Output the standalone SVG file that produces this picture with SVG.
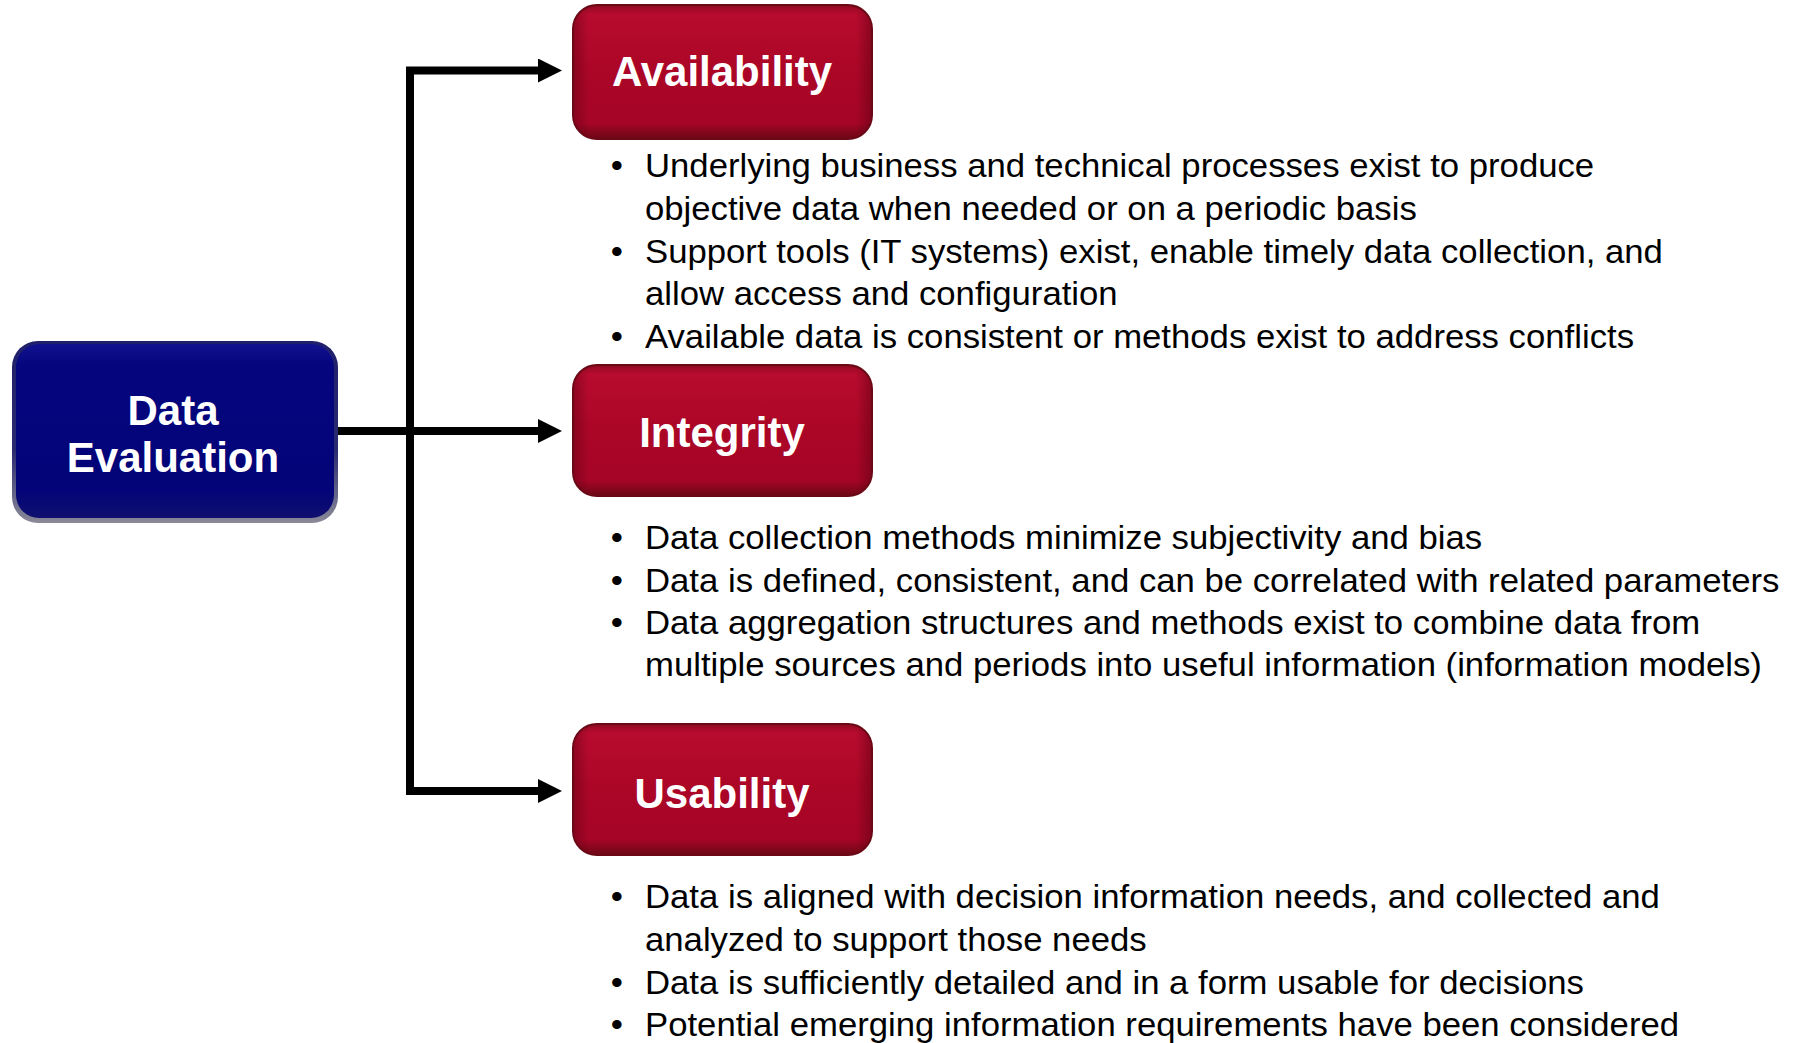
<svg xmlns="http://www.w3.org/2000/svg" width="1797" height="1043" viewBox="0 0 1797 1043">
  <style>
    .title { font-family: "Liberation Sans", Arial, sans-serif; font-weight: bold; font-size: 42px; fill: #ffffff; text-anchor: middle; }
    .body { font-family: "Liberation Sans", Arial, sans-serif; font-size: 33px; fill: #000000; }
    .wire { fill: none; stroke: #000000; stroke-width: 8; stroke-linejoin: miter; stroke-linecap: butt; }
    .red-body { fill: url(#redFill); stroke: #6a0816; stroke-width: 2; }
    .red-shade { fill: url(#redSides); }
    .red-gloss { fill: none; stroke: #d2344e; stroke-width: 3; stroke-opacity: 0.8; filter: url(#soft); }
    .blue-rim { fill: url(#blueRim); }
    .blue-body { fill: url(#blueFill); }
    .blue-gloss { fill: none; stroke: #5a5ac0; stroke-width: 3; stroke-opacity: 0.9; filter: url(#soft); }
  </style>
  <defs>
    <linearGradient id="redFill" x1="0" y1="0" x2="0" y2="1">
      <stop offset="0" stop-color="#8e0a20"/>
      <stop offset="0.07" stop-color="#b80b2e"/>
      <stop offset="0.5" stop-color="#ab0626"/>
      <stop offset="0.88" stop-color="#a60527"/>
      <stop offset="1" stop-color="#6c0716"/>
    </linearGradient>
    <linearGradient id="redSides" x1="0" y1="0" x2="1" y2="0">
      <stop offset="0" stop-color="#4a0010" stop-opacity="0.35"/>
      <stop offset="0.05" stop-color="#4a0010" stop-opacity="0"/>
      <stop offset="0.95" stop-color="#4a0010" stop-opacity="0"/>
      <stop offset="1" stop-color="#4a0010" stop-opacity="0.4"/>
    </linearGradient>
    <linearGradient id="blueRim" x1="0" y1="0" x2="0" y2="1">
      <stop offset="0" stop-color="#20206a"/>
      <stop offset="0.6" stop-color="#2a2a70"/>
      <stop offset="1" stop-color="#8a8a98"/>
    </linearGradient>
    <linearGradient id="blueFill" x1="0" y1="0" x2="0" y2="1">
      <stop offset="0" stop-color="#121290"/>
      <stop offset="0.12" stop-color="#05057e"/>
      <stop offset="0.85" stop-color="#040478"/>
      <stop offset="1" stop-color="#101070"/>
    </linearGradient>
    <filter id="soft" x="-5%" y="-20%" width="110%" height="140%">
      <feGaussianBlur stdDeviation="1.2"/>
    </filter>
    <marker id="arrow" markerUnits="userSpaceOnUse" markerWidth="24" markerHeight="24" refX="0" refY="12" orient="auto">
      <path d="M0,0 L24,12 L0,24 Z" fill="#000000"/>
    </marker>
  </defs>

  <!-- connectors: trunk from the source box, two elbow branches -->
  <g id="connectors">
    <path class="wire" d="M337,431 H538" marker-end="url(#arrow)"/>
    <path class="wire" d="M410,431 V70.5 H538" marker-end="url(#arrow)"/>
    <path class="wire" d="M410,431 V791 H538" marker-end="url(#arrow)"/>
  </g>

  <!-- source node -->
  <g id="node-data-evaluation">
    <rect class="blue-rim" x="12" y="341" width="326" height="182" rx="26"/>
    <rect class="blue-body" x="16" y="344" width="318" height="174" rx="23"/>
    <path class="blue-gloss" d="M38,354 H312"/>
    <text class="title" x="173" y="425">Data</text>
    <text class="title" x="173" y="472">Evaluation</text>
  </g>

  <!-- Availability -->
  <g id="node-availability">
    <rect class="red-body" x="573" y="5" width="299" height="134" rx="24"/>
    <rect class="red-shade" x="574" y="6" width="297" height="132" rx="23"/>
    <path class="red-gloss" d="M592,20 H852"/>
    <text class="title" x="722" y="86">Availability</text>
  </g>
  <!-- bullet text is set slightly wide: 33px face stretched 5% horizontally about x=645 -->
  <g id="text-availability" class="body" transform="matrix(1.052 0 0 1 -33.54 0)">
    <text x="612.5" y="177">•</text>
    <text x="645" y="177">Underlying business and technical processes exist to produce</text>
    <text x="645" y="220">objective data when needed or on a periodic basis</text>
    <text x="612.5" y="263">•</text>
    <text x="645" y="263">Support tools (IT systems) exist, enable timely data collection, and</text>
    <text x="645" y="305">allow access and configuration</text>
    <text x="612.5" y="348">•</text>
    <text x="645" y="348">Available data is consistent or methods exist to address conflicts</text>
  </g>

  <!-- Integrity -->
  <g id="node-integrity">
    <rect class="red-body" x="573" y="365" width="299" height="131" rx="24"/>
    <rect class="red-shade" x="574" y="366" width="297" height="129" rx="23"/>
    <path class="red-gloss" d="M592,380 H852"/>
    <text class="title" x="722" y="447">Integrity</text>
  </g>
  <g id="text-integrity" class="body" transform="matrix(1.052 0 0 1 -33.54 0)">
    <text x="612.5" y="549">•</text>
    <text x="645" y="549">Data collection methods minimize subjectivity and bias</text>
    <text x="612.5" y="592">•</text>
    <text x="645" y="592">Data is defined, consistent, and can be correlated with related parameters</text>
    <text x="612.5" y="634">•</text>
    <text x="645" y="634">Data aggregation structures and methods exist to combine data from</text>
    <text x="645" y="676">multiple sources and periods into useful information (information models)</text>
  </g>

  <!-- Usability -->
  <g id="node-usability">
    <rect class="red-body" x="573" y="724" width="299" height="131" rx="24"/>
    <rect class="red-shade" x="574" y="725" width="297" height="129" rx="23"/>
    <path class="red-gloss" d="M592,739 H852"/>
    <text class="title" x="722" y="808">Usability</text>
  </g>
  <g id="text-usability" class="body" transform="matrix(1.052 0 0 1 -33.54 0)">
    <text x="612.5" y="908">•</text>
    <text x="645" y="908">Data is aligned with decision information needs, and collected and</text>
    <text x="645" y="951">analyzed to support those needs</text>
    <text x="612.5" y="994">•</text>
    <text x="645" y="994">Data is sufficiently detailed and in a form usable for decisions</text>
    <text x="612.5" y="1036">•</text>
    <text x="645" y="1036">Potential emerging information requirements have been considered</text>
  </g>
</svg>
